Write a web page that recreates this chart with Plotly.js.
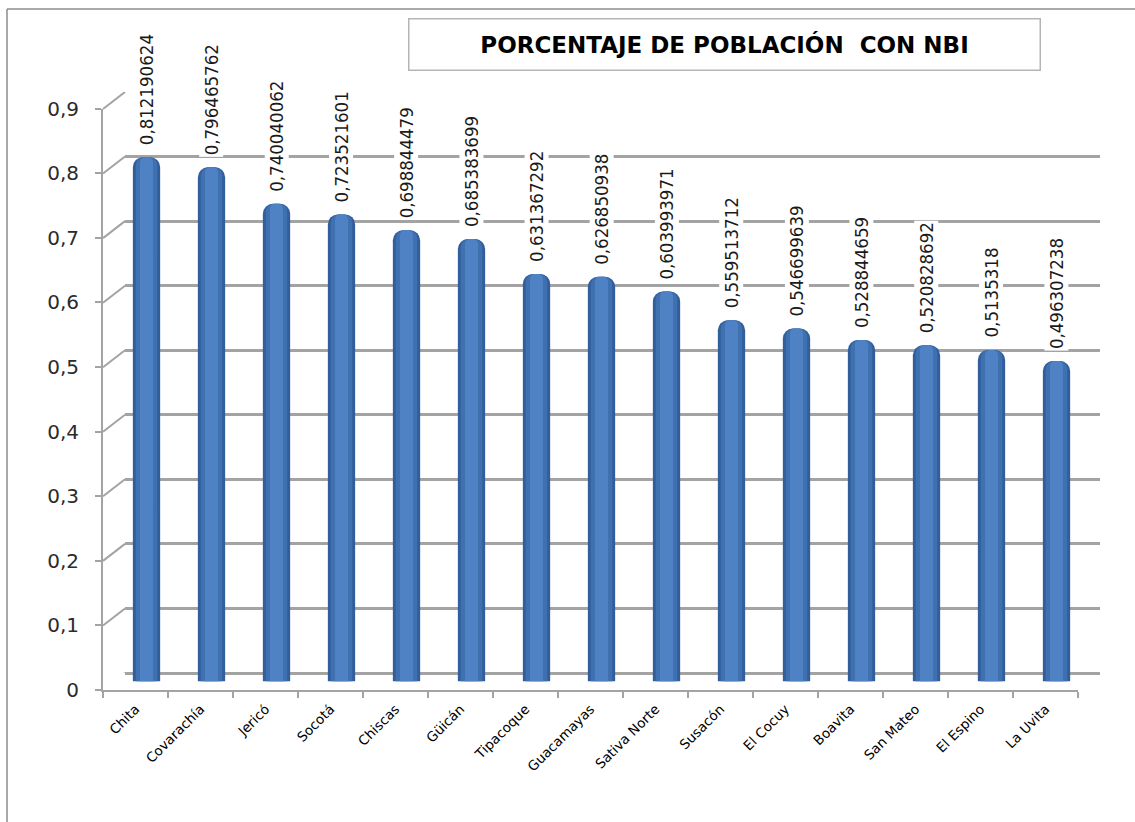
<!DOCTYPE html>
<html>
<head>
<meta charset="utf-8">
<script src="https://cdn.plot.ly/plotly-3.0.1.min.js"></script>
<style>
  html, body { margin: 0; padding: 0; background: #ffffff; }
  #chart { width: 1135px; height: 822px; }
</style>
</head>
<body>
<div id="chart"></div>
<script>
// ---- data ----
const categories = ["Chita", "Covarachía", "Jericó", "Socotá", "Chiscas", "Güicán", "Tipacoque",
  "Guacamayas", "Sativa Norte", "Susacón", "El Cocuy", "Boavita", "San Mateo", "El Espino", "La Uvita"];
const values = [0.812190624, 0.796465762, 0.740040062, 0.723521601, 0.698844479, 0.685383699,
  0.631367292, 0.626850938, 0.603993971, 0.559513712, 0.546699639, 0.528844659, 0.520828692,
  0.5135318, 0.496307238];
const yTicks = [0, 0.1, 0.2, 0.3, 0.4, 0.5, 0.6, 0.7, 0.8, 0.9];
const chartTitle = "PORCENTAJE DE POBLACIÓN  CON NBI";

// ---- geometry (pixels on a 1135x822 canvas) ----
const W = 1135, H = 822;
const px = v => v / W;
const py = v => 1 - v / H;
const front = { x0: 103, x1: 1078, y0: 690, y1: 108.5 };
const back = { x0: 125, x1: 1100, y0: 673, y1: 92 };
const mid = { x0: 114, x1: 1089, y0: 681.5, y1: 100.5 };
const depthX = back.x0 - front.x0, depthY = front.y0 - back.y0;

const gray = "#a3a3a3";

const traces = [
  { type: "scatter", x: categories, y: values, xaxis: "x", yaxis: "y", mode: "markers",
    marker: { opacity: 0 }, hoverinfo: "skip", showlegend: false },
  { type: "scatter", x: categories, y: values, xaxis: "x2", yaxis: "y2", mode: "markers",
    marker: { opacity: 0 }, hoverinfo: "skip", showlegend: false },
  { type: "bar", x: categories, y: values, xaxis: "x3", yaxis: "y3", width: 0.42,
    marker: { color: "#335e9c", cornerradius: 10 }, showlegend: false },
  { type: "bar", x: categories, y: values, xaxis: "x3", yaxis: "y3", width: 0.33,
    marker: { color: "#3f70b0", cornerradius: 8 }, showlegend: false },
  { type: "bar", x: categories, y: values, xaxis: "x3", yaxis: "y3", width: 0.2,
    marker: { color: "#4f82c4", cornerradius: 5 }, showlegend: false }
];

const shapes = [];
yTicks.forEach(v => {
  shapes.push({ type: "line", layer: "below",
    xref: "paper", xsizemode: "pixel", xanchor: px(back.x0), x0: -depthX, x1: 0,
    yref: "y2", ysizemode: "pixel", yanchor: v, y0: -depthY, y1: 0,
    line: { color: gray, width: 2 } });
});
shapes.push({ type: "line", layer: "below",
  xref: "paper", xsizemode: "pixel", xanchor: px(back.x1), x0: -depthX, x1: 0,
  yref: "y2", ysizemode: "pixel", yanchor: yTicks[0], y0: -depthY, y1: 0,
  line: { color: gray, width: 2 } });
shapes.push({ type: "line", xref: "paper", yref: "paper", x0: px(7), x1: 1.01, y0: py(9), y1: py(9),
  line: { color: "#8c8c8c", width: 1.5 } });
shapes.push({ type: "line", xref: "paper", yref: "paper", x0: px(7), x1: px(7), y0: py(9), y1: -0.01,
  line: { color: "#8c8c8c", width: 1.5 } });

const annotations = [];
categories.forEach((c, i) => {
  annotations.push({ x: c, y: values[i], xref: "x3", yref: "y3", showarrow: false,
    text: String(values[i]).replace(".", ","), textangle: -90,
    xanchor: "center", yanchor: "bottom", yshift: 10, bgcolor: "#ffffff", borderpad: 1,
    font: { family: "DejaVu Sans Condensed, sans-serif", size: 18.5, color: "#1a1a1a" } });
});
annotations.push({ xref: "paper", yref: "paper", x: px(724), y: py(44), xanchor: "center", yanchor: "middle",
  showarrow: false, text: "<b>" + chartTitle + "</b>", width: 628, height: 48,
  bordercolor: "#b5b5b5", borderwidth: 1.5, borderpad: 1, bgcolor: "#ffffff",
  font: { family: "DejaVu Sans, sans-serif", size: 23, color: "#000000" } });

const layout = {
  width: W, height: H,
  margin: { l: 0, r: 0, t: 0, b: 0 },
  paper_bgcolor: "#ffffff", plot_bgcolor: "rgba(0,0,0,0)",
  separators: ",.",
  showlegend: false,
  barmode: "overlay",
  xaxis: { type: "category", domain: [px(front.x0), px(front.x1)], anchor: "y",
    range: [-0.5, categories.length - 0.5], showgrid: false, zeroline: false,
    showline: true, linecolor: gray, linewidth: 2,
    ticks: "outside", tickson: "boundaries", ticklen: 6, tickcolor: gray, tickwidth: 2,
    ticklabelstandoff: 4,
    tickangle: -45, tickfont: { family: "DejaVu Sans, sans-serif", size: 13.5, color: "#000" } },
  yaxis: { domain: [py(front.y0), py(front.y1)], anchor: "x", range: [0, 0.9],
    tickvals: yTicks, showgrid: false, zeroline: false,
    showline: true, linecolor: gray, linewidth: 2,
    ticks: "outside", ticklen: 6, tickcolor: gray, tickwidth: 2, ticklabelstandoff: 12,
    tickfont: { family: "DejaVu Sans, sans-serif", size: 20, color: "#2b2b2b" } },
  xaxis2: { type: "category", domain: [px(back.x0), px(back.x1)], anchor: "y2",
    range: [-0.5, categories.length - 0.5], showgrid: false, zeroline: false, showline: false,
    showticklabels: false, ticks: "" },
  yaxis2: { domain: [py(back.y0), py(back.y1)], anchor: "x2", range: [0, 0.9],
    tickvals: yTicks, showgrid: true, gridcolor: gray, gridwidth: 3,
    zeroline: true, zerolinecolor: gray, zerolinewidth: 3,
    showline: false, showticklabels: false, ticks: "" },
  xaxis3: { type: "category", domain: [px(mid.x0), px(mid.x1)], anchor: "y3",
    range: [-0.5, categories.length - 0.5], visible: false },
  yaxis3: { domain: [py(mid.y0), py(mid.y1)], anchor: "x3", range: [0, 0.9], visible: false },
  shapes: shapes,
  annotations: annotations
};

Plotly.newPlot("chart", traces, layout, { staticPlot: true, displayModeBar: false });
</script>
</body>
</html>
